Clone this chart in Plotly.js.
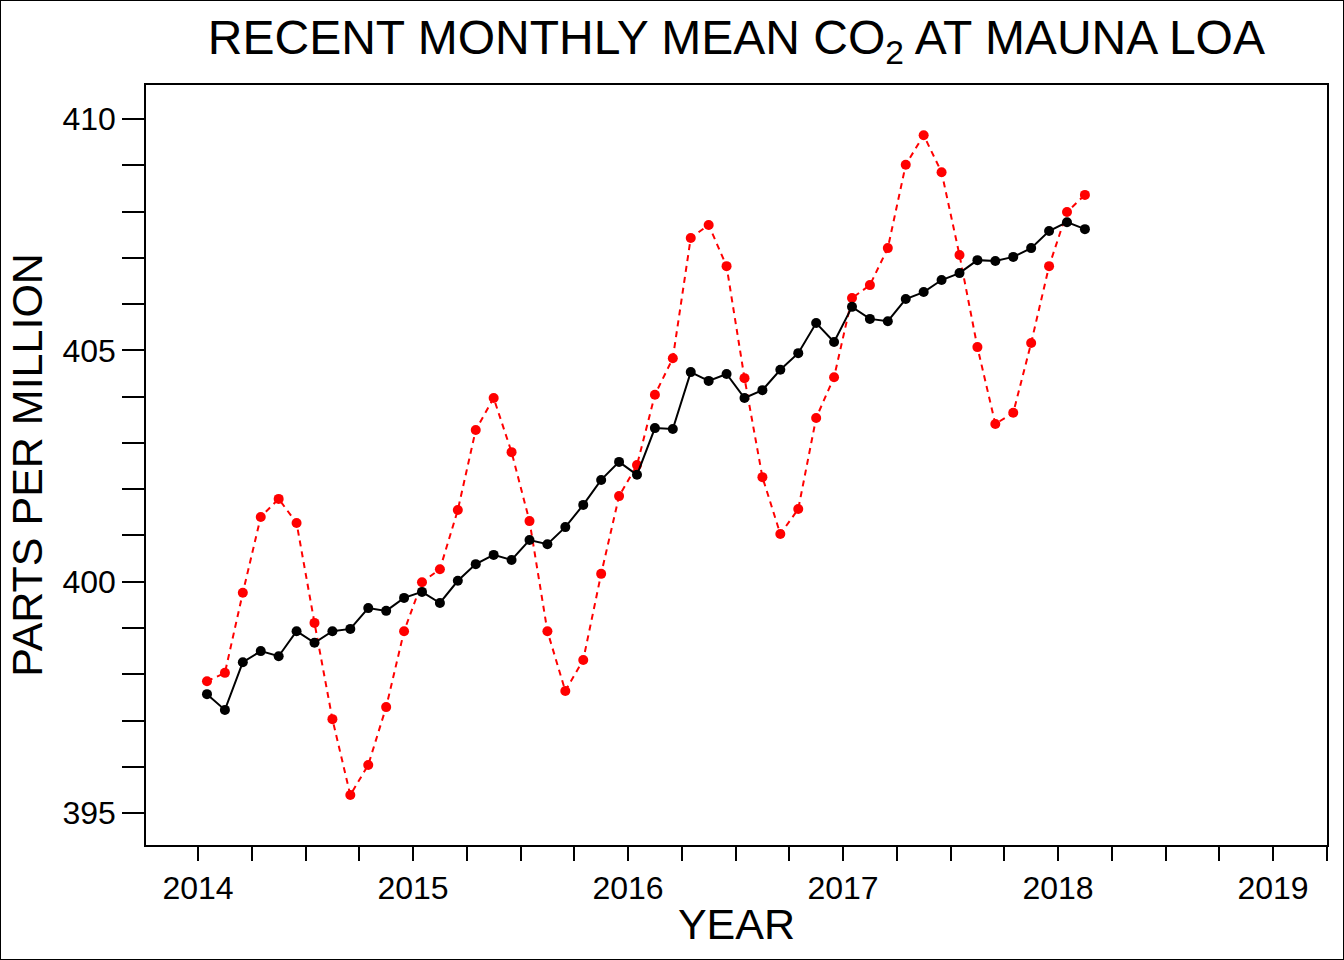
<!DOCTYPE html>
<html>
<head>
<script src="https://cdn.plot.ly/plotly-3.0.1.min.js"></script>
<style>
body{margin:0;}
#plot{width:1344px;height:960px;box-sizing:border-box;border:1px solid black;}
</style>
</head>
<body>
<div id="plot"></div>
<script>
// monthly mean (red) and seasonally corrected (black), Jan 2014 .. Feb 2018
var monthlyMean = [397.85, 398.03, 399.76, 401.40, 401.79, 401.27, 399.11, 397.03, 395.39, 396.04, 397.29, 398.93,
    399.99, 400.27, 401.55, 403.28, 403.97, 402.80, 401.31, 398.93, 397.64, 398.31, 400.17, 401.85,
    402.52, 404.04, 404.83, 407.43, 407.71, 406.82, 404.40, 402.26, 401.03, 401.57, 403.54, 404.42,
    406.13, 406.41, 407.21, 409.01, 409.65, 408.85, 407.06, 405.07, 403.41, 403.65, 405.16, 406.82,
    407.99, 408.36];
var corrected = [397.57, 397.23, 398.26, 398.50, 398.39, 398.93, 398.68, 398.93, 398.98, 399.43, 399.37, 399.65,
    399.78, 399.54, 400.02, 400.38, 400.58, 400.47, 400.90, 400.81, 401.18, 401.66, 402.20, 402.59,
    402.31, 403.32, 403.30, 404.53, 404.34, 404.49, 403.97, 404.14, 404.58, 404.94, 405.59, 405.18,
    405.94, 405.68, 405.63, 406.11, 406.26, 406.52, 406.67, 406.95, 406.93, 407.02, 407.21, 407.58,
    407.77, 407.62];
var startYear = 2014;

var dates = monthlyMean.map(function(v, i){ return startYear + (i + 0.5) / 12; });

var data = [
    {x: dates, y: monthlyMean, mode: 'lines+markers', type: 'scatter',
     line: {color: '#ff0000', width: 2, dash: '6px,5px'},
     marker: {color: '#ff0000', size: 10}},
    {x: dates, y: corrected, mode: 'lines+markers', type: 'scatter',
     line: {color: 'black', width: 2},
     marker: {color: 'black', size: 10}}
];

var layout = {
    width: 1342, height: 958,
    showlegend: false,
    margin: {l: 145, r: 16, t: 84, b: 114},
    paper_bgcolor: 'white', plot_bgcolor: 'white',
    font: {family: 'Liberation Sans, Arial, sans-serif', color: 'black'},
    title: {text: 'RECENT MONTHLY MEAN CO<sub>2</sub> AT MAUNA LOA', font: {size: 48},
            x: 0.548, xanchor: 'center', y: 0.962, yanchor: 'middle'},
    xaxis: {
        range: [2013.758, 2019.251],
        tickvals: [2014, 2015, 2016, 2017, 2018, 2019],
        ticks: 'outside', ticklen: 14, tickwidth: 1.5, tickcolor: 'black',
        tickfont: {size: 32},
        minor: {dtick: 0.25, tick0: 2014, ticks: 'outside', ticklen: 14, tickwidth: 1.5, tickcolor: 'black'},
        showgrid: false, zeroline: false,
        showline: true, linecolor: 'black', linewidth: 1.5, mirror: true,
        title: {text: 'YEAR', font: {size: 43}, standoff: 4}
    },
    yaxis: {
        range: [394.31, 410.735],
        tickvals: [395, 400, 405, 410],
        ticks: 'outside', ticklen: 22, tickwidth: 1.5, tickcolor: 'black',
        tickfont: {size: 32},
        minor: {dtick: 1, tick0: 395, ticks: 'outside', ticklen: 22, tickwidth: 1.5, tickcolor: 'black'},
        showgrid: false, zeroline: false,
        showline: true, linecolor: 'black', linewidth: 1.5, mirror: true,
        title: {text: 'PARTS PER MILLION', font: {size: 43}, standoff: 6}
    }
};

Plotly.newPlot('plot', data, layout, {displayModeBar: false});
</script>
</body>
</html>
